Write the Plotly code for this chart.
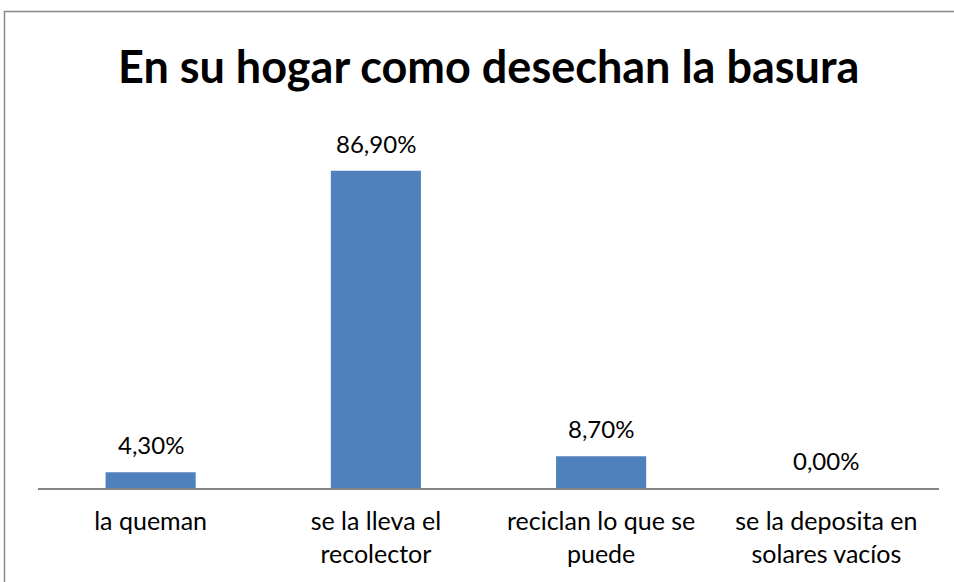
import plotly.graph_objects as go

# Survey: how households dispose of their rubbish
categories = ["la queman", "se la lleva el<br>recolector", "reciclan lo que se<br>puede", "se la deposita en<br>solares vacíos"]
values = [4.3, 86.9, 8.7, 0.0]

title_text = "En su hogar como desechan la basura"
bar_color = "#4F81BD"
font_family = "Lato, 'Open Sans', sans-serif"

W, H = 954, 582
m_l, m_r, m_t, m_b = 38, 15, 123, 94

fig = go.Figure(
    go.Bar(
        x=categories,
        y=values,
        width=0.4,
        marker=dict(color=bar_color, line=dict(width=0)),
        hoverinfo="skip",
    )
)

# value labels above each bar
for c, v in zip(categories, values):
    fig.add_annotation(
        x=c, y=v, xref="x", yref="y",
        text=f"{v:.2f}".replace(".", ",") + "%",
        showarrow=False, yanchor="bottom", yshift=11,
        font=dict(family=font_family, size=24, color="#000000"),
    )

# chart title
plot_w = W - m_l - m_r
plot_h = H - m_t - m_b
fig.add_annotation(
    x=(488 - m_l) / plot_w, y=(488 - 66) / plot_h, xref="paper", yref="paper",
    text="<b>" + title_text + "</b>", showarrow=False,
    xanchor="center", yanchor="middle",
    font=dict(family=font_family, size=45, color="#000000"),
)

# outer chart frame
fig.add_shape(
    type="rect", xref="paper", yref="paper",
    x0=(4.5 - m_l) / plot_w, x1=(W + 20 - m_l) / plot_w,
    y0=(488 - (H + 20)) / plot_h, y1=(488 - 11.5) / plot_h,
    line=dict(color="#888888", width=1.5), fillcolor="rgba(0,0,0,0)",
    layer="below",
)

fig.update_layout(
    width=W, height=H,
    margin=dict(l=m_l, r=m_r, t=m_t, b=m_b),
    paper_bgcolor="white", plot_bgcolor="white",
    showlegend=False,
    bargap=0.6,
    font=dict(family=font_family, size=24, color="#000000"),
)
fig.update_xaxes(
    showline=True, linecolor="#868686", linewidth=2,
    showgrid=False, ticks="", tickfont=dict(size=25, color="#000000"),
    ticklabelstandoff=10,
    fixedrange=True,
)
fig.update_yaxes(
    range=[0, 100], visible=False, showgrid=False, zeroline=False,
    fixedrange=True,
)

fig.write_html("out.html", config={"displayModeBar": False})
